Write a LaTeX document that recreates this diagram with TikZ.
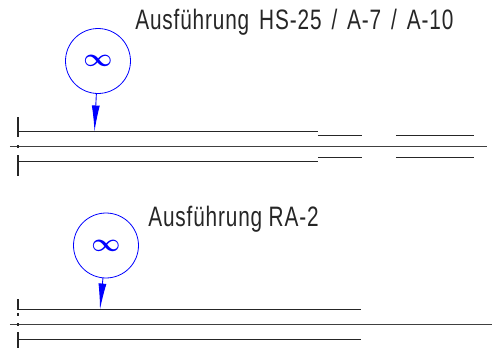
\documentclass[tikz,border=0pt]{standalone}
\usepackage{fontspec}
\newfontfamily\isofont[FakeStretch=0.74,LetterSpace=3,WordSpace=1.5]{Liberation Sans}
\usetikzlibrary{arrows.meta}
\def\Px{0.02cm}

\begin{document}
\begin{tikzpicture}[x=\Px,y=-\Px]
    \tikzset{
      gauge/.style={draw=blue,circle,line width=0.45pt,minimum size=1.3cm,inner sep=0pt,text=blue,font=\fontsize{15}{15}\selectfont\boldmath},
      pointer/.style={draw=blue,line width=0.5pt,-{Latex[length=0.52cm,width=0.16cm]}},
      caption/.style={inner sep=0pt,anchor=base west,text=black!85,font=\isofont\fontsize{16}{16}\selectfont},
      edgeline/.style={draw=black!85,line width=0.6pt},
      axisline/.style={draw=black!75,line width=0.6pt}
    }
    \useasboundingbox (0,0) rectangle (495,349);

    % upper variant
    \node[caption] (capa) at (135,29) {Ausführung HS-25 / A-7 / A-10};
    \node[gauge] (ga) at (98,61) {$\infty$};
    \coordinate (tipa) at (94.5,131.5);
    \draw[pointer] (ga) -- (tipa);

    \draw[edgeline] (18,131.5) -- (318,131.5);
    \draw[edgeline] (18,161.5) -- (318,161.5);
    \draw[edgeline] (318,135.5) -- (362,135.5);
    \draw[edgeline] (318,157.5) -- (362,157.5);
    \draw[edgeline] (396,135.5) -- (474,135.5);
    \draw[edgeline] (396,157.5) -- (474,157.5);
    \draw[axisline] (10,146.5) -- (487,146.5);
    \draw[edgeline] (18,117) -- (18,137);
    \draw[edgeline] (18,155) -- (18,176);
    \draw[edgeline] (18,145) -- (18,148);

    % lower variant
    \node[caption] (capb) at (148,226) {Ausführung\kern-2pt{} RA-2};
    \node[gauge] (gb) at (106,245.5) {$\infty$};
    \coordinate (tipb) at (100,309.5);
    \draw[pointer] (gb) -- (tipb);

    \draw[edgeline] (18,309.5) -- (361,309.5);
    \draw[edgeline] (18,339.5) -- (361,339.5);
    \draw[axisline] (10,324.5) -- (492,324.5);
    \draw[edgeline] (18,299) -- (18,310);
    \draw[edgeline] (18,313) -- (18,316);
    \draw[edgeline] (18,323) -- (18,326);
    \draw[edgeline] (18,332) -- (18,348);
  \end{tikzpicture}
\end{document}
